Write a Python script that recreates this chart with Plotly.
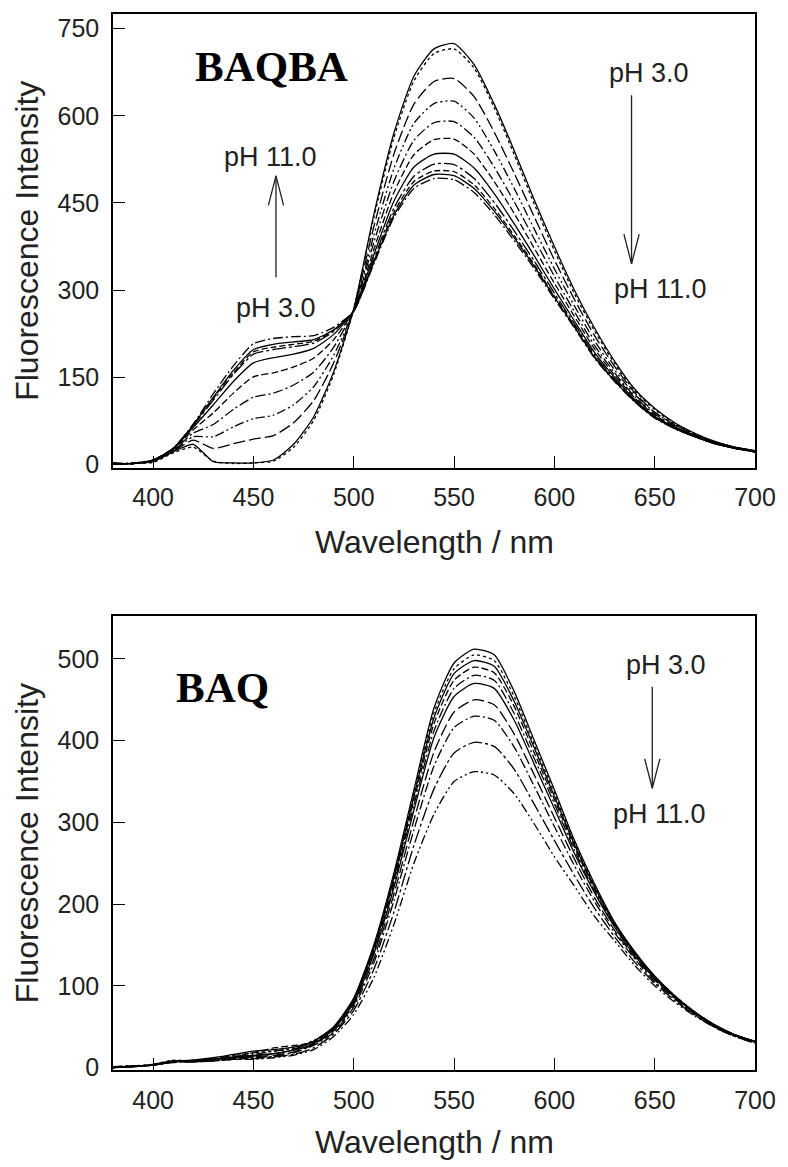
import plotly.graph_objects as go

# ---------------- data ----------------
wavelength = [380, 390, 400, 410, 420, 430, 440, 450, 460, 470, 480, 490, 500,
              510, 520, 530, 540, 550, 560, 570, 580, 590, 600, 610, 620, 630,
              640, 650, 660, 670, 680, 690, 700]

# BAQBA spectra (pH 3.0 -> pH 11.0)
baqba_ph3_solid = [2, 2, 5, 22, 35, 5, 3, 3, 8, 35, 82, 160, 268, 430, 570, 668, 715, 724, 688, 620, 540, 455, 375, 300, 235, 178, 130, 97, 72, 54, 40, 30, 24]
baqba_ph3_dot = [2, 2, 4, 20, 30, 6, 2, 3, 6, 30, 76, 155, 268, 425, 562, 660, 707, 715, 682, 614, 533, 448, 368, 294, 230, 174, 127, 95, 70, 53, 39, 30, 24]
baqba_c1 = [2, 2, 6, 23, 42, 28, 36, 44, 50, 72, 110, 175, 267, 409, 534, 620, 659, 664, 633, 572, 501, 426, 352, 284, 222, 169, 124, 90, 69, 52, 39, 30, 24]
baqba_c2 = [2, 2, 6, 24, 48, 48, 65, 79, 85, 103, 134, 188, 266, 394, 509, 587, 621, 625, 596, 540, 475, 405, 337, 273, 213, 163, 121, 90, 68, 51, 38, 29, 23]
baqba_c3 = [2, 2, 7, 25, 54, 69, 95, 116, 123, 137, 159, 202, 266, 382, 487, 558, 588, 590, 563, 512, 452, 388, 324, 263, 205, 158, 117, 87, 66, 50, 38, 29, 23]
baqba_c4 = [2, 2, 7, 26, 60, 89, 123, 151, 158, 168, 183, 215, 265, 370, 468, 533, 559, 560, 534, 487, 432, 372, 312, 255, 199, 154, 115, 85, 65, 50, 37, 29, 23]
baqba_c5 = [2, 2, 8, 27, 64, 103, 143, 175, 184, 190, 200, 224, 265, 361, 453, 512, 534, 534, 510, 466, 414, 359, 302, 247, 193, 150, 112, 83, 64, 49, 37, 28, 22]
baqba_c6 = [2, 2, 8, 27, 67, 111, 155, 190, 198, 203, 209, 229, 264, 354, 441, 496, 517, 516, 492, 451, 402, 350, 295, 242, 189, 147, 110, 82, 63, 48, 36, 28, 22]
baqba_c7 = [2, 2, 8, 28, 68, 114, 158, 194, 202, 207, 212, 231, 264, 350, 434, 487, 505, 504, 481, 441, 394, 344, 290, 239, 186, 145, 109, 81, 63, 48, 36, 28, 22]
baqba_c8 = [2, 2, 8, 28, 68, 116, 162, 198, 207, 211, 215, 232, 264, 348, 429, 481, 499, 497, 475, 436, 390, 341, 288, 237, 185, 144, 109, 81, 62, 48, 36, 28, 22]
baqba_ph11 = [2, 3, 8, 28, 70, 122, 170, 208, 217, 220, 222, 236, 264, 345, 425, 475, 492, 490, 468, 430, 385, 337, 285, 235, 183, 143, 108, 80, 62, 48, 36, 28, 22]

# BAQ spectra (pH 3.0 -> pH 11.0)
baq_ph3 = [0, 2, 3, 8, 8, 10, 13, 15, 17, 22, 32, 50, 85, 150, 238, 340, 440, 495, 512, 505, 460, 400, 340, 278, 225, 178, 142, 112, 88, 68, 52, 40, 32]
baq_d1 = [1, 2, 4, 9, 8, 11, 14, 18, 20, 24, 33, 49, 84, 148, 235, 336, 434, 488, 505, 498, 454, 395, 336, 275, 223, 177, 141, 111, 88, 68, 52, 40, 32]
baq_d2 = [0, 1, 3, 7, 9, 12, 16, 20, 22, 25, 32, 49, 83, 146, 232, 332, 428, 482, 498, 491, 448, 391, 332, 273, 221, 176, 140, 111, 87, 68, 52, 40, 32]
baq_d3 = [0, 2, 3, 8, 7, 10, 15, 18, 24, 27, 31, 48, 82, 144, 229, 327, 421, 474, 490, 483, 442, 385, 328, 270, 219, 175, 140, 110, 87, 67, 52, 40, 32]
baq_d4 = [1, 2, 3, 6, 8, 11, 13, 16, 20, 23, 30, 47, 81, 141, 225, 321, 412, 464, 480, 474, 433, 378, 323, 266, 216, 173, 138, 109, 86, 67, 51, 40, 32]
baq_d5 = [0, 1, 4, 8, 9, 10, 12, 14, 17, 21, 29, 47, 79, 139, 220, 315, 404, 454, 470, 464, 425, 371, 317, 262, 214, 172, 137, 109, 86, 67, 51, 39, 31]
baq_d6 = [0, 2, 3, 7, 8, 9, 11, 13, 15, 19, 28, 45, 77, 133, 212, 303, 386, 435, 450, 444, 408, 358, 306, 255, 208, 168, 135, 107, 85, 66, 51, 39, 31]
baq_d7 = [1, 2, 3, 7, 7, 9, 10, 12, 14, 18, 27, 43, 74, 128, 204, 291, 369, 416, 430, 425, 392, 344, 295, 247, 203, 165, 133, 105, 84, 65, 50, 39, 31]
baq_d8 = [0, 2, 3, 7, 7, 8, 10, 11, 13, 16, 24, 41, 70, 120, 190, 272, 341, 385, 398, 393, 365, 322, 278, 235, 195, 160, 129, 103, 82, 64, 49, 38, 30]
baq_ph11 = [0, 2, 3, 7, 7, 8, 10, 10, 12, 15, 22, 38, 65, 110, 175, 250, 310, 350, 362, 358, 335, 298, 258, 222, 185, 155, 125, 100, 80, 63, 49, 38, 30]

x_ticks = [400, 450, 500, 550, 600, 650, 700]
top_y_ticks = [0, 150, 300, 450, 600, 750]
bottom_y_ticks = [0, 100, 200, 300, 400, 500]

# ---------------- styles ----------------
DDD = "9px,3px,2px,3px,2px,3px"
top_series = [
    (baqba_ph3_solid, "solid"), (baqba_ph3_dot, "dot"), (baqba_c1, "12px,4px"),
    (baqba_c2, DDD), (baqba_c3, "10px,3px,2px,3px"), (baqba_c4, "7px,3px"),
    (baqba_c5, "solid"), (baqba_c6, "14px,3px,3px,3px"), (baqba_c7, "6px,3px"),
    (baqba_c8, "solid"), (baqba_ph11, "10px,3px,2px,3px"),
]
bottom_series = [
    (baq_ph3, "solid"), (baq_d1, "dot"), (baq_d2, "solid"), (baq_d3, "7px,3px"),
    (baq_d4, "10px,3px,2px,3px"), (baq_d5, "solid"), (baq_d6, "12px,4px"),
    (baq_d7, "10px,3px,2px,3px"), (baq_d8, "14px,3px,3px,3px"), (baq_ph11, DDD),
]

fig = go.Figure()
for vals, dash in top_series:
    fig.add_trace(go.Scatter(x=wavelength, y=vals, mode="lines", xaxis="x", yaxis="y",
                             line=dict(color="black", width=1.3, dash=dash, shape="spline", smoothing=0.6),
                             showlegend=False, hoverinfo="skip"))
for vals, dash in bottom_series:
    fig.add_trace(go.Scatter(x=wavelength, y=vals, mode="lines", xaxis="x2", yaxis="y2",
                             line=dict(color="black", width=1.3, dash=dash, shape="spline", smoothing=0.6),
                             showlegend=False, hoverinfo="skip"))

SANS = "Liberation Sans, Arial, sans-serif"
axis_common = dict(showline=True, mirror=True, linecolor="black", linewidth=1.5,
                   ticks="inside", ticklen=12, tickwidth=1.3, tickcolor="black",
                   showgrid=False, zeroline=False,
                   tickfont=dict(family=SANS, size=25, color="#222"))

fig.update_layout(
    width=788, height=1167,
    margin=dict(l=113, r=25, t=13, b=97),
    paper_bgcolor="white", plot_bgcolor="white",
    xaxis=dict(domain=[0, 1], anchor="y", range=[380, 700], tickvals=x_ticks,
               ticklabelstandoff=7, **axis_common),
    yaxis=dict(domain=[0.5705, 1], anchor="x", range=[-5, 775], tickvals=top_y_ticks,
               ticklabelstandoff=7, **axis_common),
    xaxis2=dict(domain=[0, 1], anchor="y2", range=[380, 700], tickvals=x_ticks,
                ticklabelstandoff=7, **axis_common),
    yaxis2=dict(domain=[0, 0.4295], anchor="x2", range=[-3, 552], tickvals=bottom_y_ticks,
                ticklabelstandoff=7, **axis_common),
)

ann = []
title_font = dict(family=SANS, size=32, color="#222")
# axis titles
for yc in [(1070 - 240) / 1057, (1070 - 843) / 1057]:
    ann.append(dict(text="Fluorescence Intensity", xref="paper", yref="paper", x=0, y=yc,
                    xshift=-86, textangle=-90, showarrow=False, font=title_font,
                    xanchor="center", yanchor="middle"))
for yc in [(1070 - 542) / 1057, (1070 - 1142) / 1057]:
    ann.append(dict(text="Wavelength / nm", xref="paper", yref="paper", x=0.5, y=yc,
                    showarrow=False, font=title_font, xanchor="center", yanchor="middle"))

serif = dict(family="Liberation Serif, Times New Roman, serif", size=43, color="black")
ann.append(dict(text="<b>BAQBA</b>", xref="paper", yref="paper", x=(194 - 113) / 650,
                y=(1070 - 66) / 1057, xanchor="left", yanchor="middle", showarrow=False, font=serif))
ann.append(dict(text="<b>BAQ</b>", xref="paper", yref="paper", x=(175 - 113) / 650,
                y=(1070 - 687) / 1057, xanchor="left", yanchor="middle", showarrow=False, font=serif))

ph_font = dict(family=SANS, size=27, color="#222")
labels = [("pH 11.0", 272, 156), ("pH 3.0", 278, 307), ("pH 3.0", 656, 72),
          ("pH 11.0", 667, 288), ("pH 3.0", 673, 665), ("pH 11.0", 666, 814)]
for t, px, py in labels:
    ann.append(dict(text=t, xref="paper", yref="paper", x=(px - 113) / 650, y=(1070 - py) / 1057,
                    xanchor="center", yanchor="middle", showarrow=False, font=ph_font))

# arrows: (x pixel, tip y pixel, shaft offset to tail, direction of head arms)
arrows = [(278, 175, 103), (638, 263, -170), (659, 788, -103)]
for px, head, ay in arrows:
    xp, yp = (px - 113) / 650, (1070 - head) / 1057
    common = dict(text="", xref="paper", yref="paper", x=xp, y=yp, showarrow=True,
                  arrowhead=0, arrowwidth=1.3, arrowcolor="#222", standoff=0)
    ann.append(dict(ax=0, ay=ay, **common))
    arm = 31 if ay > 0 else -31
    ann.append(dict(ax=-8, ay=arm, **common))
    ann.append(dict(ax=8, ay=arm, **common))

fig.update_layout(annotations=ann)
fig.write_html("out.html", config={"displayModeBar": False},
               post_script="document.body.style.margin='0';document.body.style.padding='0';")
